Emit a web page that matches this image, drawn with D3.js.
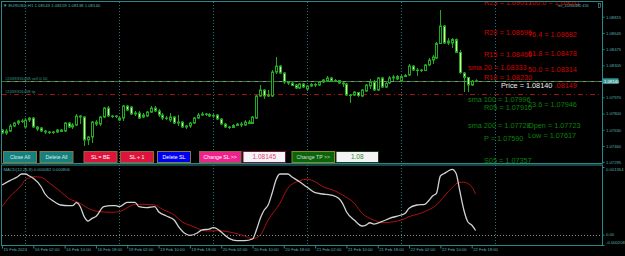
<!DOCTYPE html>
<html>
<head>
<meta charset="utf-8">
<script src="https://cdn.jsdelivr.net/npm/d3@7"></script>
<style>
  html, body { margin: 0; padding: 0; background: #000; overflow: hidden; }
  svg { display: block; }
  text { font-family: "Liberation Sans", Arial, sans-serif; }
</style>
</head>
<body>
<svg id="chart"></svg>
<script>
// EURUSD H1, 15 Feb 18:00 .. 22 Feb 19:00 (bar index 0..121)
const opens = [
  1.07628,1.07596,1.07617,1.07670,1.07701,1.07722,1.07659,1.07732,1.07753,1.07659,
  1.07649,1.07617,1.07607,1.07601,1.07607,1.07628,1.07617,1.07701,1.07659,1.07680,
  1.07774,1.07764,1.07523,1.07554,1.07711,1.07690,1.07764,1.07858,1.07774,1.07769,
  1.07732,1.07753,1.07879,1.07869,1.07795,1.07806,1.07764,1.07774,1.07816,1.07858,
  1.07827,1.07785,1.07753,1.07732,1.07764,1.07701,1.07711,1.07659,1.07670,1.07701,
  1.07753,1.07785,1.07795,1.07790,1.07774,1.07785,1.07743,1.07690,1.07659,1.07654,
  1.07675,1.07690,1.07680,1.07711,1.07696,1.07753,1.07984,1.08047,1.07984,1.07984,
  1.08235,1.08298,1.08225,1.08131,1.08120,1.08099,1.08068,1.08110,1.08057,1.08089,
  1.08104,1.08099,1.08131,1.08140,1.08173,1.08136,1.08146,1.08120,1.08110,1.07994,
  1.07994,1.08021,1.07984,1.08036,1.08089,1.08131,1.08047,1.08173,1.08078,1.08120,
  1.08173,1.08188,1.08140,1.08188,1.08204,1.08298,1.08256,1.08251,1.08251,1.08309,
  1.08361,1.08382,1.08534,1.08718,1.08539,1.08539,1.08576,1.08440,1.08225,1.08178,
  1.08099,1.08143
];
const highs = [
  1.07638,1.07638,1.07690,1.07711,1.07732,1.07743,1.07753,1.07764,1.07764,1.07670,
  1.07659,1.07628,1.07617,1.07617,1.07638,1.07638,1.07711,1.07711,1.07701,1.07795,
  1.07785,1.07774,1.07565,1.07722,1.07732,1.07774,1.07869,1.07879,1.07785,1.07785,
  1.07774,1.07890,1.07890,1.07879,1.07827,1.07827,1.07806,1.07827,1.07879,1.07879,
  1.07848,1.07806,1.07774,1.07806,1.07774,1.07785,1.07722,1.07680,1.07711,1.07764,
  1.07806,1.07816,1.07806,1.07806,1.07795,1.07795,1.07753,1.07701,1.07670,1.07690,
  1.07701,1.07711,1.07732,1.07732,1.07774,1.07994,1.08099,1.08057,1.08047,1.08256,
  1.08393,1.08309,1.08235,1.08140,1.08131,1.08110,1.08120,1.08120,1.08099,1.08120,
  1.08120,1.08140,1.08162,1.08194,1.08183,1.08162,1.08152,1.08131,1.08120,1.08005,
  1.08036,1.08026,1.08057,1.08110,1.08162,1.08152,1.08183,1.08183,1.08131,1.08194,
  1.08204,1.08204,1.08204,1.08214,1.08319,1.08309,1.08277,1.08267,1.08319,1.08382,
  1.08414,1.08550,1.08885,1.08728,1.08592,1.08592,1.08587,1.08466,1.08235,1.08183,
  1.08152,1.08159
];
const lows = [
  1.07586,1.07575,1.07607,1.07659,1.07680,1.07701,1.07649,1.07711,1.07649,1.07617,
  1.07607,1.07586,1.07586,1.07586,1.07596,1.07607,1.07607,1.07649,1.07638,1.07670,
  1.07690,1.07460,1.07470,1.07491,1.07670,1.07670,1.07753,1.07764,1.07753,1.07753,
  1.07722,1.07722,1.07827,1.07785,1.07774,1.07743,1.07753,1.07764,1.07806,1.07816,
  1.07764,1.07732,1.07732,1.07711,1.07690,1.07670,1.07649,1.07638,1.07649,1.07690,
  1.07743,1.07774,1.07774,1.07764,1.07753,1.07732,1.07680,1.07649,1.07638,1.07649,
  1.07670,1.07659,1.07670,1.07690,1.07690,1.07743,1.07973,1.07953,1.07973,1.07973,
  1.08214,1.08214,1.08110,1.08099,1.08089,1.08057,1.08057,1.08068,1.08036,1.08078,
  1.08078,1.08089,1.08120,1.08131,1.08131,1.08131,1.08110,1.08078,1.07984,1.07911,
  1.07984,1.07973,1.07973,1.08026,1.08057,1.08036,1.08036,1.08068,1.08068,1.08110,
  1.08140,1.08152,1.08131,1.08183,1.08194,1.08246,1.08194,1.08235,1.08246,1.08298,
  1.08319,1.08372,1.08529,1.08529,1.08518,1.08487,1.08435,1.08214,1.08026,1.08026,
  1.08089,1.08138
];
const closes = [
  1.07596,1.07617,1.07670,1.07701,1.07722,1.07717,1.07732,1.07753,1.07659,1.07638,
  1.07617,1.07607,1.07601,1.07607,1.07628,1.07612,1.07701,1.07659,1.07680,1.07774,
  1.07764,1.07523,1.07554,1.07711,1.07690,1.07764,1.07858,1.07774,1.07769,1.07774,
  1.07753,1.07879,1.07837,1.07795,1.07806,1.07753,1.07785,1.07816,1.07858,1.07827,
  1.07785,1.07753,1.07748,1.07764,1.07701,1.07711,1.07659,1.07670,1.07701,1.07753,
  1.07785,1.07795,1.07790,1.07774,1.07780,1.07743,1.07690,1.07659,1.07654,1.07675,
  1.07690,1.07680,1.07711,1.07696,1.07764,1.07984,1.08047,1.07984,1.07994,1.08235,
  1.08298,1.08225,1.08131,1.08120,1.08094,1.08068,1.08110,1.08078,1.08089,1.08104,
  1.08099,1.08131,1.08152,1.08173,1.08136,1.08146,1.08120,1.08110,1.07994,1.07989,
  1.08026,1.07989,1.08047,1.08099,1.08131,1.08047,1.08173,1.08078,1.08115,1.08173,
  1.08183,1.08162,1.08188,1.08199,1.08298,1.08256,1.08251,1.08256,1.08309,1.08361,
  1.08393,1.08534,1.08718,1.08539,1.08560,1.08576,1.08440,1.08230,1.08178,1.08099,
  1.08140,1.08140
];

// MACD(12,26,9) read at these bar indexes
const mainIdx = [0,2,4,5,6,7,8,10,11,13,15,17,18,19,20,21,22,23,24,26,28,29,30,32,34,35,37,39,40,42,44,45,47,48,
  50,51,53,54,55,56,58,60,62,64,65,66,67,68,69,70,71,73,74,76,78,80,82,84,86,87,88,90,92,93,94,95,97,99,
  102,103,104,106,108,109,110,111,112,113,114,115,116,117,118,119,120,121];
const macdMain = [0.000994,0.001080,0.001160,0.001214,0.001214,0.001174,0.001128,0.000959,0.000813,0.000679,
  0.000593,0.000579,0.000579,0.000639,0.000559,0.000359,0.000272,0.000326,0.000363,0.000559,0.000579,0.000579,
  0.000559,0.000647,0.000647,0.000559,0.000539,0.000559,0.000459,0.000373,0.000292,0.000172,0.000012,-0.000014,
  0.000038,0.000092,0.000112,0.000138,0.000112,0.000052,-0.000074,-0.000122,-0.000122,-0.000088,0.000092,
  0.000326,0.000493,0.000593,0.000827,0.001094,0.001214,0.001214,0.001160,0.001060,0.000947,0.000839,0.000813,
  0.000793,0.000727,0.000627,0.000459,0.000292,0.000172,0.000192,0.000238,0.000212,0.000258,0.000326,
  0.000393,0.000427,0.000527,0.000593,0.000607,0.000679,0.000773,0.000827,0.001174,0.001224,0.001274,0.001308,
  0.001228,0.000859,0.000493,0.000258,0.000192,0.000082];
const signalIdx = [0,2,5,6,7,8,10,12,15,17,20,22,25,28,30,32,34,36,39,41,44,46,49,51,53,55,59,62,64,66,68,71,73,
  76,78,80,82,85,87,90,92,95,97,100,102,104,108,111,114,117,118,120,121];
const macdSignal = [0.000559,0.000759,0.000994,0.001104,0.001134,0.001160,0.001148,0.001040,0.000859,0.000727,
  0.000627,0.000527,0.000459,0.000447,0.000459,0.000539,0.000607,0.000607,0.000593,0.000507,0.000393,0.000258,
  0.000158,0.000092,0.000072,0.000078,0.000038,-0.000028,-0.000082,-0.000008,0.000292,0.000627,0.000927,
  0.001080,0.001108,0.001060,0.000959,0.000879,0.000793,0.000627,0.000427,0.000292,0.000238,0.000258,0.000292,
  0.000359,0.000459,0.000593,0.000859,0.001048,0.001048,0.000959,0.000806];

const priceTicks = [1.08815, 1.08645, 1.08475, 1.08305, 1.07970, 1.07800, 1.07630, 1.07460, 1.07295];
const macdTicks = [0.001354, 0, -0.000208];
const macdTickLabels = ['0.001354', '0.00', '-0.000208'];
const timeIdx = [0, 8, 16, 24, 32, 40, 48, 56, 64, 72, 80, 88, 96, 104, 112, 120];
const timeLabels = ['15 Feb 2024', '16 Feb 02:00', '16 Feb 10:00', '16 Feb 18:00', '19 Feb 02:00', '19 Feb 10:00',
  '19 Feb 18:00', '20 Feb 02:00', '20 Feb 10:00', '20 Feb 18:00', '21 Feb 02:00', '21 Feb 10:00', '21 Feb 18:00',
  '22 Feb 02:00', '22 Feb 10:00', '22 Feb 18:00'];
const dayIdx = [6, 30, 54, 78, 102, 126];

const pivotNames = ['R25', 'R20', 'R15', 'R10', 'R05', 'P', 'S05'];
const pivotLevels = [1.09017, 1.08696, 1.08466, 1.08230, 1.07910, 1.07590, 1.07357];
const fibNames = ['100.0', '76.4', '61.8', '50.0', '38.2', '23.6', 'Open', 'Low'];
const fibLevels = [1.09011, 1.08682, 1.08478, 1.08314, 1.08149, 1.07946, 1.07723, 1.07617];
const smaNames = ['sma 20', 'sma 100', 'sma 200'];
const smaLevels = [1.08333, 1.07996, 1.07728];

const ticket = '#2059316458';
const orderPrice = 1.08140;
const tpPrice = 1.08;
const slInput = '1.08145';
const tpInput = '1.08';

const n = closes.length;
const lastPrice = closes[n - 1];

const svg = d3.select('#chart').attr('width', 625).attr('height', 256);
svg.append('rect').attr('width', 625).attr('height', 256).attr('fill', '#000');

const frameColor = '#2a8888';
const gridColor = '#1f7a7a';
const labelColor = '#55b0b0';

// scales
const x = d3.scaleLinear().domain([0, 121]).range([2, 475.6]);
const y = d3.scaleLinear().domain([1.07282, 1.08969]).range([163, 2]);
const ym = d3.scaleLinear().domain([-0.000208, 0.001354]).range([245, 167]);

const defs = svg.append('defs');
defs.append('clipPath').attr('id', 'clipMain')
  .append('rect').attr('x', 2).attr('y', 2).attr('width', 600).attr('height', 161);
defs.append('clipPath').attr('id', 'clipMacd')
  .append('rect').attr('x', 2).attr('y', 165).attr('width', 600).attr('height', 80);

const main = svg.append('g').attr('clip-path', 'url(#clipMain)');
const ind = svg.append('g').attr('clip-path', 'url(#clipMacd)');

// day separators
[[main, 2, 163], [ind, 165, 245]].forEach(([g, y0, y1]) => {
  g.selectAll(null)
    .data(dayIdx)
    .enter()
    .append('line')
    .attr('x1', (d) => Math.floor(x(d)) + 0.5)
    .attr('x2', (d) => Math.floor(x(d)) + 0.5)
    .attr('y1', y0)
    .attr('y2', y1)
    .attr('stroke', gridColor)
    .attr('stroke-dasharray', '1,2');
});

// bid line + order lines
const py = (p) => Math.round(y(p)) + 0.5;
main.append('line').attr('x1', 2).attr('x2', 602).attr('y1', py(lastPrice)).attr('y2', py(lastPrice))
  .attr('stroke', '#8a8f8a');
main.append('line').attr('x1', 2).attr('x2', 602).attr('y1', py(orderPrice)).attr('y2', py(orderPrice))
  .attr('stroke', '#2c7a2c').attr('stroke-dasharray', '5,3');
main.append('line').attr('x1', 2).attr('x2', 602).attr('y1', py(tpPrice)).attr('y2', py(tpPrice))
  .attr('stroke', '#a01010').attr('stroke-dasharray', '5,3,1,3');
main.append('text').attr('x', 5).attr('y', py(orderPrice) - 1.2)
  .attr('font-size', 4.2).attr('fill', '#3a9a8a').text(`${ticket} sell 0.10`);
main.append('text').attr('x', 5).attr('y', py(tpPrice) - 1.5)
  .attr('font-size', 4.2).attr('fill', '#3a9a8a').text(`${ticket} tp`);

// candles
const bars = d3.range(n).map((i) => ({ i, o: opens[i], h: highs[i], l: lows[i], c: closes[i] }));
const candleStroke = '#22aa22';
const cg = main.append('g');
cg.selectAll('.wick')
  .data(bars)
  .enter()
  .append('line')
  .attr('class', 'wick')
  .attr('x1', (d) => Math.round(x(d.i)) + 0.5)
  .attr('x2', (d) => Math.round(x(d.i)) + 0.5)
  .attr('y1', (d) => y(d.h))
  .attr('y2', (d) => y(d.l))
  .attr('stroke', candleStroke);
cg.selectAll('.body')
  .data(bars)
  .enter()
  .append('rect')
  .attr('class', 'body')
  .attr('x', (d) => Math.round(x(d.i)) - 0.5)
  .attr('y', (d) => y(Math.max(d.o, d.c)))
  .attr('width', 2)
  .attr('height', (d) => Math.max(0.01, Math.abs(y(d.o) - y(d.c))))
  .attr('fill', (d) => (d.c >= d.o ? '#000' : '#dcefa2'))
  .attr('stroke', candleStroke);

// level texts
const levelColor = (v) => (v > lastPrice ? '#d40000' : '#0b800b');
const levelText = (names, levels, x0) => {
  main.append('g')
    .selectAll('text')
    .data(levels)
    .enter()
    .append('text')
    .attr('x', x0)
    .attr('y', (d) => y(d) + 7.3)
    .attr('font-size', 7.3)
    .attr('fill', (d) => levelColor(d))
    .text((d, i) => `${names[i]} = ${d.toFixed(5)}`);
};
levelText(smaNames, smaLevels, 468);
levelText(pivotNames, pivotLevels, 484);
levelText(fibNames, fibLevels, 528);

main.append('rect').attr('x', 499).attr('y', y(lastPrice) + 1.6).attr('width', 56).attr('height', 8)
  .attr('fill', '#000');
main.append('text').attr('x', 501).attr('y', y(lastPrice) + 7.3)
  .attr('font-size', 7.3).attr('fill', '#f0f0f0').text(`Price = ${lastPrice.toFixed(5)}`);

// header
main.append('text').attr('x', 3).attr('y', 6.5).attr('font-size', 4.3).attr('fill', labelColor)
  .text(`\u25BC EURUSD,H1  ${opens[n - 1].toFixed(5)} ${highs[n - 1].toFixed(5)} ${lows[n - 1].toFixed(5)} ${closes[n - 1].toFixed(5)}`);
main.append('text').attr('x', 558).attr('y', 7).attr('font-size', 3.8).attr('fill', labelColor)
  .text('mt_10366480  456');
main.append('rect').attr('x', 598.5).attr('y', 3.5).attr('width', 2).attr('height', 4)
  .attr('fill', 'none').attr('stroke', labelColor).attr('stroke-width', 0.6);

// panel buttons
const buttons = [
  { label: 'Close All', x: 3, w: 34, fill: '#16807f', stroke: '#857a3a', color: '#dcecec' },
  { label: 'Delete All', x: 39.5, w: 34, fill: '#16807f', stroke: '#857a3a', color: '#dcecec' },
  { label: 'SL = BE', x: 83.5, w: 34, fill: '#dc143c', stroke: '#8d6a3a', color: '#ffffff' },
  { label: 'SL + 1', x: 120, w: 34, fill: '#dc143c', stroke: '#8d6a3a', color: '#ffffff' },
  { label: 'Delete SL', x: 157, w: 34, fill: '#0000f0', stroke: '#8d7a3a', color: '#ffffff' },
  { label: 'Change SL >>', x: 199, w: 42.5, fill: '#f0208c', stroke: '#8d6a3a', color: '#ffffff' },
  { label: slInput, x: 242.5, w: 43.5, fill: '#f4f4f4', stroke: '#7a1040', color: '#e8407a', big: true },
  { label: 'Change TP >>', x: 291.5, w: 43.5, fill: '#0a640a', stroke: '#8a8a1a', color: '#d8d8d8' },
  { label: tpInput, x: 335.5, w: 43.5, fill: '#f4f4f4', stroke: '#203a20', color: '#2c8a2c', big: true },
];
const bg = svg.append('g');
const btn = bg.selectAll('g').data(buttons).enter().append('g');
btn.append('rect')
  .attr('x', (d) => d.x + 0.5).attr('y', 151.5)
  .attr('width', (d) => d.w - 1).attr('height', 11)
  .attr('fill', (d) => d.fill).attr('stroke', (d) => d.stroke);
btn.append('text')
  .attr('x', (d) => d.x + d.w / 2).attr('y', (d) => (d.big ? 159.3 : 158.8))
  .attr('text-anchor', 'middle')
  .attr('font-size', (d) => (d.big ? 6.5 : 5.2))
  .attr('fill', (d) => d.color)
  .text((d) => d.label);

// MACD window
ind.append('line').attr('x1', 2).attr('x2', 602)
  .attr('y1', Math.round(ym(0)) + 0.5).attr('y2', Math.round(ym(0)) + 0.5)
  .attr('stroke', '#8a8a8a').attr('stroke-dasharray', '1,2');
const lineGen = d3.line().x((d) => x(d[0])).y((d) => ym(d[1])).curve(d3.curveMonotoneX);
ind.append('path').datum(signalIdx.map((d, i) => [d, macdSignal[i]]))
  .attr('d', lineGen).attr('fill', 'none').attr('stroke', '#b01010').attr('stroke-width', 1);
ind.append('path').datum(mainIdx.map((d, i) => [d, macdMain[i]]))
  .attr('d', lineGen).attr('fill', 'none').attr('stroke', '#d2d2d2').attr('stroke-width', 1.3);
ind.append('text').attr('x', 3.5).attr('y', 171).attr('font-size', 4.2).attr('fill', labelColor)
  .text(`MACD(12,26,9) ${macdMain[macdMain.length - 1].toFixed(6)} ${macdSignal[macdSignal.length - 1].toFixed(6)}`);

// frames
svg.append('rect').attr('x', 1.5).attr('y', 1.5).attr('width', 601).attr('height', 162)
  .attr('fill', 'none').attr('stroke', frameColor);
svg.append('rect').attr('x', 1.5).attr('y', 165).attr('width', 601).attr('height', 80.5)
  .attr('fill', 'none').attr('stroke', frameColor);

// price axis
const yAxis = svg.append('g').attr('transform', 'translate(602.5,0)')
  .call(d3.axisRight(y).tickValues(priceTicks).tickSize(2).tickPadding(1.5).tickFormat(d3.format('.5f')));
yAxis.select('.domain').remove();
yAxis.selectAll('line').attr('stroke', frameColor);
yAxis.selectAll('text').attr('fill', labelColor).attr('font-size', 4.2)
  .attr('font-family', '"Liberation Sans", Arial, sans-serif');

// current price box
svg.append('rect').attr('x', 602.5).attr('y', y(lastPrice) - 2.8).attr('width', 16).attr('height', 5.6)
  .attr('fill', '#3a9696');
svg.append('text').attr('x', 604).attr('y', y(lastPrice) + 1.5).attr('font-size', 4.2).attr('fill', '#ffffff')
  .text(lastPrice.toFixed(5));

// macd axis
const mAxis = svg.append('g').attr('transform', 'translate(602.5,0)')
  .call(d3.axisRight(ym).tickValues(macdTicks).tickSize(2).tickPadding(1.5)
    .tickFormat((d, i) => macdTickLabels[i]));
mAxis.select('.domain').remove();
mAxis.selectAll('line').attr('stroke', frameColor);
mAxis.selectAll('text').attr('fill', labelColor).attr('font-size', 4.2)
  .attr('font-family', '"Liberation Sans", Arial, sans-serif')
  .attr('dy', (d, i) => (i === 0 ? '0.85em' : i === 2 ? '-0.25em' : '0.32em'));

// time axis
const tAxis = svg.append('g').attr('transform', 'translate(0,245.5)')
  .call(d3.axisBottom(x).tickValues(timeIdx).tickSize(3).tickPadding(0)
    .tickFormat((d, i) => timeLabels[i]));
tAxis.select('.domain').remove();
tAxis.selectAll('line').attr('stroke', frameColor);
tAxis.selectAll('text').attr('fill', labelColor).attr('font-size', 4.2)
  .attr('font-family', '"Liberation Sans", Arial, sans-serif')
  .attr('text-anchor', 'start').attr('x', 1).attr('y', 2.3);
</script>
</body>
</html>
